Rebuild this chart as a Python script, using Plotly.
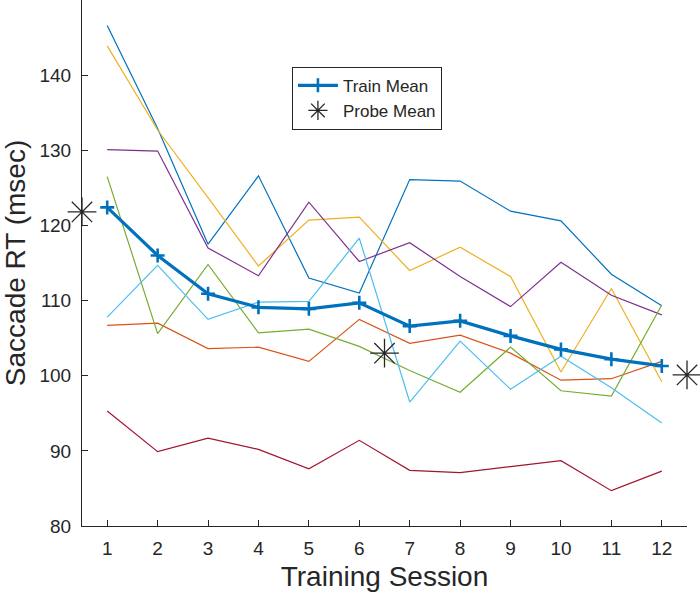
import plotly.graph_objects as go

sessions = [1, 2, 3, 4, 5, 6, 7, 8, 9, 10, 11, 12]

subj1 = [146.6, 132.9, 117.5, 126.6, 113.0, 111.0, 126.1, 125.9, 121.9, 120.6, 113.5, 109.3]
subj2 = [106.7, 107.0, 103.6, 103.8, 101.9, 107.5, 104.3, 105.4, 103.0, 99.4, 99.6, 101.9]
subj3 = [143.9, 132.7, 123.7, 114.6, 120.7, 121.1, 114.0, 117.1, 113.2, 100.5, 111.6, 99.2]
subj4 = [130.1, 129.9, 117.0, 113.3, 123.1, 115.2, 117.7, 113.2, 109.2, 115.1, 110.7, 108.1]
subj5 = [126.5, 105.6, 114.8, 105.7, 106.2, 103.9, 100.7, 97.8, 103.8, 98.0, 97.3, 109.4]
subj6 = [107.8, 114.7, 107.5, 109.8, 109.9, 118.3, 96.5, 104.6, 98.2, 102.6, 98.4, 93.7]
subj7 = [95.3, 89.9, 91.7, 90.2, 87.6, 91.4, 87.4, 87.1, 87.9, 88.7, 84.7, 87.3]

train_mean = [122.4, 116.0, 110.9, 109.1, 108.9, 109.7, 106.6, 107.3, 105.3, 103.5, 102.2, 101.3]

probe_x = [0.5, 6.5, 12.5]
probe_mean = [121.8, 103.0, 100.1]

subjects = [subj1, subj2, subj3, subj4, subj5, subj6, subj7]
colors = ["#0072BD", "#D95319", "#EDB120", "#7E2F8E", "#77AC30", "#4DBEEE", "#A2142F"]

FONT = "Liberation Sans, Arial, Helvetica, sans-serif"
DARK = "#262626"

fig = go.Figure()
for s, c in zip(subjects, colors):
    fig.add_trace(go.Scatter(x=sessions, y=s, mode="lines",
                             line=dict(color=c, width=1.2),
                             showlegend=False, hoverinfo="skip"))

fig.add_trace(go.Scatter(x=sessions, y=train_mean, mode="lines+markers",
                         name="Train Mean",
                         line=dict(color="#0072BD", width=3.2),
                         marker=dict(symbol="cross-thin", size=10,
                                     line=dict(color="#0072BD", width=2.6))))

fig.add_trace(go.Scatter(x=probe_x, y=probe_mean, mode="markers",
                         name="Probe Mean", cliponaxis=False,
                         marker=dict(symbol="asterisk-open", size=24,
                                     color=DARK,
                                     line=dict(color=DARK, width=1.3))))

fig.update_layout(
    width=700, height=601,
    margin=dict(l=82, r=13, t=0, b=75, autoexpand=False),
    plot_bgcolor="white", paper_bgcolor="white",
    font=dict(family=FONT, color=DARK),
    legend=dict(x=0.347, y=0.873, xanchor="left", yanchor="top",
                bordercolor=DARK, borderwidth=1, bgcolor="white",
                font=dict(size=17, family=FONT, color=DARK),
                itemwidth=40, tracegroupgap=0),
)

fig.update_xaxes(
    range=[0.5, 12.5], tickmode="array", tickvals=sessions,
    ticktext=[str(v) for v in sessions],
    ticks="inside", ticklen=6, tickwidth=1, tickcolor=DARK,
    showline=True, linecolor=DARK, linewidth=1, mirror=False,
    showgrid=False, zeroline=False, automargin=False,
    tickfont=dict(size=19, family=FONT, color=DARK),
    ticklabelstandoff=5,
    title=dict(text="Training Session", font=dict(size=28, family=FONT, color=DARK), standoff=8),
)
fig.update_yaxes(
    range=[80, 150], tickmode="array", tickvals=[80, 90, 100, 110, 120, 130, 140],
    ticks="inside", ticklen=6, tickwidth=1, tickcolor=DARK,
    showline=True, linecolor=DARK, linewidth=1, mirror=False,
    showgrid=False, zeroline=False, automargin=False,
    tickfont=dict(size=19, family=FONT, color=DARK),
    ticklabelstandoff=6,
    title=dict(text="Saccade RT (msec)", font=dict(size=28, family=FONT, color=DARK), standoff=8),
)

fig.write_html("out.html", config={"displayModeBar": False},
               post_script="document.body.style.margin='0';document.body.style.overflow='hidden';")
